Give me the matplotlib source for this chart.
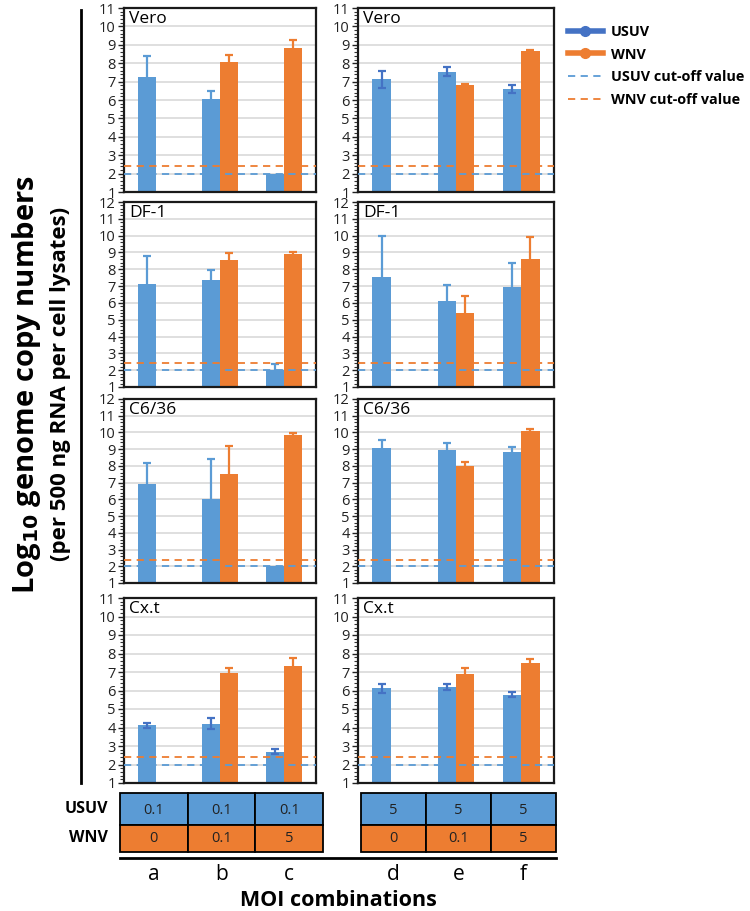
import numpy as np
import matplotlib
matplotlib.use('Agg')
import matplotlib.pyplot as plt
from matplotlib.lines import Line2D
from matplotlib.patches import Rectangle

plt.rcParams['font.family'] = ['Open Sans', 'DejaVu Sans']

# data
cells = ['Vero', 'DF-1', 'C6/36', 'Cx.t']
y_top = [11, 12, 12, 11]
groups = ['a', 'b', 'c', 'd', 'e', 'f']
usuv_moi = ['0.1', '0.1', '0.1', '5', '5', '5']
wnv_moi = ['0', '0.1', '5', '0', '0.1', '5']

usuv_vero = [7.23, 6.04, 2.0, 7.12, 7.53, 6.58]
usuv_vero_err = [1.15, 0.45, 0.0, 0.45, 0.25, 0.22]
wnv_vero = [1.03, 8.07, 8.8, 1.03, 6.83, 8.67]
wnv_vero_err = [0, 0.35, 0.45, 0, 0.05, 0.05]

usuv_df1 = [7.12, 7.34, 2.04, 7.57, 6.11, 6.92]
usuv_df1_err = [1.67, 0.62, 0.32, 2.4, 0.93, 1.43]
wnv_df1 = [1.03, 8.55, 8.91, 1.03, 5.39, 8.59]
wnv_df1_err = [0, 0.44, 0.1, 0, 1.05, 1.31]

usuv_c636 = [6.91, 6.04, 2.0, 9.1, 8.96, 8.82]
usuv_c636_err = [1.25, 2.35, 0, 0.44, 0.38, 0.32]
wnv_c636 = [1.03, 7.51, 9.87, 1.03, 8.0, 10.1]
wnv_c636_err = [0, 1.69, 0.1, 0, 0.24, 0.08]

usuv_cxt = [4.12, 4.2, 2.7, 6.12, 6.18, 5.78]
usuv_cxt_err = [0.13, 0.3, 0.13, 0.25, 0.15, 0.15]
wnv_cxt = [1.03, 6.95, 7.34, 1.03, 6.9, 7.5]
wnv_cxt_err = [0, 0.27, 0.4, 0, 0.33, 0.2]

usuv_cutoff = 2.0
wnv_cutoff = 2.4

usuv_all = [usuv_vero, usuv_df1, usuv_c636, usuv_cxt]
usuv_err_all = [usuv_vero_err, usuv_df1_err, usuv_c636_err, usuv_cxt_err]
wnv_all = [wnv_vero, wnv_df1, wnv_c636, wnv_cxt]
wnv_err_all = [wnv_vero_err, wnv_df1_err, wnv_c636_err, wnv_cxt_err]

BLUE = '#5b9bd5'
DARK_BLUE = '#4472c4'
ORANGE = '#ed7d31'
W, H = 750, 911

# error bar colour of the blue series, per panel (row, col)
blue_err_col = [[BLUE, DARK_BLUE], [BLUE, BLUE], [BLUE, BLUE], [DARK_BLUE, DARK_BLUE]]

fig = plt.figure(figsize=(7.5, 9.11), dpi=100)

rows_px = [(8, 192), (202, 387), (399, 583), (598, 783)]
cols_px = [(124, 316), (358, 554)]

def px_axes(x0, x1, y0, y1):
    return fig.add_axes([x0 / W, 1 - y1 / H, (x1 - x0) / W, (y1 - y0) / H])

bw = 0.28
for r, cell in enumerate(cells):
    for c in range(2):
        ax = px_axes(cols_px[c][0], cols_px[c][1], rows_px[r][0], rows_px[r][1])
        sl = slice(3 * c, 3 * c + 3)
        x = np.arange(3)
        u = np.array(usuv_all[r][sl])
        ue = np.array(usuv_err_all[r][sl])
        w = np.array(wnv_all[r][sl])
        we = np.array(wnv_err_all[r][sl])
        ax.bar(x - bw / 2, u - 1, bottom=1, width=bw, color=BLUE, zorder=2)
        ax.bar(x + bw / 2, w - 1, bottom=1, width=bw, color=ORANGE, zorder=2)
        mu = ue > 0
        ax.errorbar((x - bw / 2)[mu], u[mu], yerr=ue[mu], fmt='none',
                    ecolor=blue_err_col[r][c], elinewidth=1.6, capsize=3, capthick=1.6, zorder=3)
        mw = we > 0
        ax.errorbar((x + bw / 2)[mw], w[mw], yerr=we[mw], fmt='none',
                    ecolor=ORANGE, elinewidth=1.6, capsize=3, capthick=1.6, zorder=3)
        ax.axhline(wnv_cutoff, color=ORANGE, ls=(0, (4, 3)), lw=1.3, zorder=4)
        ax.axhline(usuv_cutoff, color=BLUE, ls=(0, (4, 3)), lw=1.3, zorder=4)
        ax.set_xlim(-0.5, 2.5)
        ax.set_ylim(1, y_top[r])
        ax.set_yticks(range(1, y_top[r] + 1))
        ax.set_yticks(np.arange(1, y_top[r] + 0.01, 0.2), minor=True)
        ax.yaxis.grid(True, color='#d9d9d9', lw=1.2, zorder=0)
        ax.set_axisbelow(True)
        ax.set_xticks([])
        ax.tick_params(axis='y', which='major', labelsize=10.5, length=4, width=1, pad=2, colors='#222222')
        ax.tick_params(axis='y', which='minor', length=3, width=0.8, colors='#333333')
        for s in ax.spines.values():
            s.set_linewidth(1.6)
            s.set_color('#1a1a1a')
        ax.text(0.025, 0.985, cell, transform=ax.transAxes, ha='left', va='top', fontsize=12.5)

# overlay in pixel coords
ov = fig.add_axes([0, 0, 1, 1], zorder=-1)
ov.set_xlim(0, W)
ov.set_ylim(H, 0)
ov.axis('off')

ov.plot([81, 81], [10, 783], color='black', lw=2)
ov.text(27, 385, r'Log$_{\mathbf{10}}$ genome copy numbers', rotation=90, ha='center', va='center',
        fontsize=21, fontweight='bold')
ov.text(61, 384, '(per 500 ng RNA per cell lysates)', rotation=90, ha='center', va='center',
        fontsize=16, fontweight='bold')

tables = [(120, 323), (361, 556)]
for t, (tx0, tx1) in enumerate(tables):
    cw = (tx1 - tx0) / 3
    for k in range(3):
        g = 3 * t + k
        ov.add_patch(Rectangle((tx0 + k * cw, 793), cw, 32, facecolor=BLUE, edgecolor='black', lw=1.3))
        ov.add_patch(Rectangle((tx0 + k * cw, 825), cw, 27, facecolor=ORANGE, edgecolor='black', lw=1.3))
        cx = tx0 + (k + 0.5) * cw
        ov.text(cx, 810, usuv_moi[g], ha='center', va='center', fontsize=10.5, color='#222222')
        ov.text(cx, 839, wnv_moi[g], ha='center', va='center', fontsize=10.5, color='#222222')
        ov.text(cx, 874, groups[g], ha='center', va='center', fontsize=15)

ov.text(108, 809, 'USUV', ha='right', va='center', fontsize=11.5, fontweight='bold')
ov.text(108, 838, 'WNV', ha='right', va='center', fontsize=11.5, fontweight='bold')
ov.plot([120, 556], [858, 858], color='black', lw=2)
ov.text(338, 900, 'MOI combinations', ha='center', va='center', fontsize=15.5, fontweight='bold')

handles = [
    Line2D([], [], color=DARK_BLUE, lw=4, marker='o', ms=7),
    Line2D([], [], color=ORANGE, lw=4, marker='o', ms=7),
    Line2D([], [], color=BLUE, lw=1.3, ls=(0, (4, 3))),
    Line2D([], [], color=ORANGE, lw=1.3, ls=(0, (4, 3))),
]
labels = ['USUV', 'WNV', 'USUV cut-off value', 'WNV cut-off value']
fig.legend(handles, labels, loc='upper left', bbox_to_anchor=(565 / W, 1 - 22 / H), frameon=False,
           prop={'weight': 'bold', 'size': 10.4}, handlelength=2.4, labelspacing=0.6, handletextpad=0.6,
           borderaxespad=0, borderpad=0.2)

fig.savefig('out.png', dpi=100)
